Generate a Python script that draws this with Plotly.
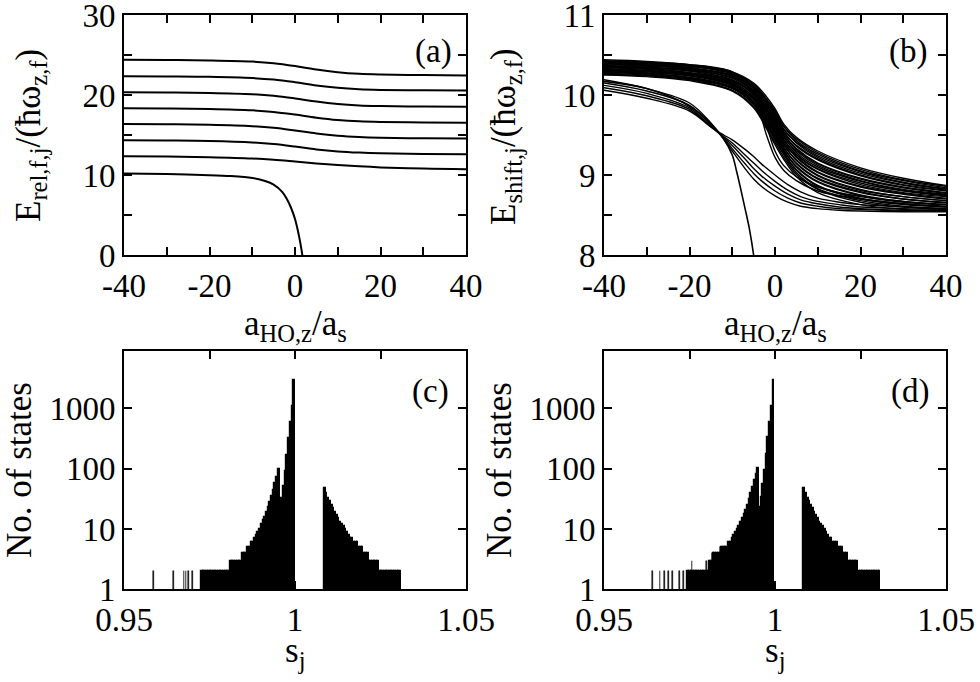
import plotly.graph_objects as go

# ---------------- data ----------------
# (a) relative energies vs a_HO,z/a_s
a_x = [-40, -30, -20, -10, -5, 0, 5, 10, 15, 20, 30, 40]
a_curves = [
    [24.40, 24.37, 24.32, 24.18, 23.98, 23.62, 23.18, 22.85, 22.65, 22.56, 22.49, 22.45],
    [22.35, 22.32, 22.27, 22.12, 21.93, 21.60, 21.20, 20.90, 20.72, 20.64, 20.58, 20.55],
    [20.35, 20.32, 20.26, 20.10, 19.90, 19.57, 19.18, 18.88, 18.70, 18.62, 18.55, 18.52],
    [18.35, 18.32, 18.25, 18.08, 17.88, 17.55, 17.17, 16.88, 16.71, 16.63, 16.56, 16.52],
    [16.38, 16.34, 16.27, 16.10, 15.90, 15.57, 15.20, 14.92, 14.75, 14.66, 14.59, 14.55],
    [14.35, 14.31, 14.24, 14.06, 13.86, 13.55, 13.20, 12.95, 12.80, 12.71, 12.64, 12.60],
    [12.35, 12.31, 12.22, 12.06, 11.90, 11.68, 11.45, 11.25, 11.08, 10.95, 10.80, 10.72],
]
a_low_x = [-40, -30, -20, -15, -10, -7, -5, -3, -2, -1, 0, 1, 2, 3]
a_low_y = [10.20, 10.12, 9.98, 9.86, 9.62, 9.25, 8.80, 7.90, 7.10, 6.00, 4.50, 2.20, -1.0, -5.0]

# (b) shifted energies
b_xa = [-40, -30, -20, -10, -5, -2, 0, 2, 5, 10, 20, 30, 40]
b_group_a = [
    [10.44, 10.42, 10.38, 10.29, 10.15, 9.98, 9.83, 9.64, 9.47, 9.30, 9.09, 8.96, 8.87],
    [10.43, 10.41, 10.37, 10.28, 10.13, 9.95, 9.80, 9.61, 9.43, 9.26, 9.05, 8.93, 8.84],
    [10.42, 10.40, 10.36, 10.27, 10.13, 9.95, 9.80, 9.61, 9.45, 9.28, 9.07, 8.94, 8.86],
    [10.42, 10.40, 10.36, 10.26, 10.11, 9.93, 9.77, 9.58, 9.40, 9.22, 9.02, 8.90, 8.82],
    [10.40, 10.38, 10.34, 10.24, 10.10, 9.92, 9.76, 9.57, 9.41, 9.24, 9.04, 8.91, 8.83],
    [10.41, 10.39, 10.34, 10.25, 10.09, 9.90, 9.74, 9.55, 9.36, 9.19, 8.99, 8.87, 8.80],
    [10.39, 10.37, 10.32, 10.22, 10.08, 9.88, 9.72, 9.53, 9.37, 9.20, 9.00, 8.88, 8.81],
    [10.39, 10.37, 10.33, 10.23, 10.06, 9.87, 9.71, 9.52, 9.32, 9.14, 8.95, 8.84, 8.77],
    [10.37, 10.35, 10.31, 10.21, 10.05, 9.85, 9.69, 9.50, 9.33, 9.15, 8.96, 8.85, 8.78],
    [10.38, 10.36, 10.32, 10.21, 10.04, 9.84, 9.67, 9.49, 9.28, 9.10, 8.92, 8.81, 8.75],
    [10.36, 10.34, 10.30, 10.19, 10.03, 9.83, 9.66, 9.47, 9.30, 9.12, 8.93, 8.82, 8.76],
    [10.36, 10.34, 10.30, 10.19, 10.02, 9.81, 9.64, 9.45, 9.25, 9.07, 8.88, 8.78, 8.73],
    [10.35, 10.33, 10.28, 10.17, 10.01, 9.80, 9.62, 9.44, 9.26, 9.08, 8.90, 8.80, 8.74],
    [10.35, 10.33, 10.28, 10.18, 10.00, 9.78, 9.61, 9.42, 9.22, 9.03, 8.85, 8.76, 8.70],
    [10.33, 10.31, 10.26, 10.15, 9.98, 9.76, 9.59, 9.40, 9.23, 9.04, 8.86, 8.77, 8.71],
    [10.34, 10.32, 10.27, 10.16, 9.97, 9.75, 9.57, 9.39, 9.18, 8.99, 8.81, 8.73, 8.68],
    [10.32, 10.30, 10.25, 10.13, 9.96, 9.73, 9.55, 9.37, 9.19, 9.00, 8.82, 8.73, 8.68],
    [10.32, 10.30, 10.26, 10.14, 9.95, 9.72, 9.54, 9.35, 9.14, 8.95, 8.78, 8.70, 8.65],
    [10.30, 10.28, 10.24, 10.12, 9.94, 9.70, 9.52, 9.34, 9.15, 8.96, 8.79, 8.70, 8.66],
    [10.31, 10.29, 10.24, 10.12, 9.92, 9.69, 9.50, 9.32, 9.10, 8.91, 8.74, 8.66, 8.63],
    [10.29, 10.27, 10.22, 10.10, 9.91, 9.67, 9.48, 9.30, 9.11, 8.92, 8.75, 8.67, 8.63],
    [10.29, 10.27, 10.22, 10.10, 9.90, 9.66, 9.47, 9.28, 9.06, 8.86, 8.70, 8.63, 8.60],
    [10.27, 10.25, 10.20, 10.08, 9.89, 9.64, 9.45, 9.27, 9.07, 8.87, 8.71, 8.64, 8.61],
    [10.28, 10.26, 10.21, 10.09, 9.88, 9.63, 9.44, 9.26, 9.03, 8.83, 8.68, 8.61, 8.58],
    [10.26, 10.24, 10.19, 10.06, 9.86, 9.60, 9.41, 9.23, 9.01, 8.82, 8.66, 8.60, 8.57],
    [10.25, 10.23, 10.18, 10.05, 9.84, 9.58, 9.38, 9.20, 8.98, 8.78, 8.63, 8.57, 8.55],
    [10.42, 10.41, 10.38, 10.29, 10.08, 9.62, 9.30, 9.12, 8.98, 8.85, 8.73, 8.67, 8.63],
    [10.40, 10.39, 10.36, 10.26, 10.00, 9.50, 9.22, 9.06, 8.93, 8.80, 8.70, 8.64, 8.60],
]
b_xb = [-40, -30, -20, -15, -12, -10, -7, -5, -3, 0, 3, 6, 10, 15, 20, 30, 40]
b_group_b = [
    [10.19, 10.08, 9.90, 9.65, 9.45, 9.30, 9.08, 8.95, 8.85, 8.74, 8.66, 8.61, 8.58, 8.56, 8.55, 8.54, 8.54],
    [10.15, 10.05, 9.87, 9.63, 9.46, 9.33, 9.14, 9.02, 8.92, 8.80, 8.71, 8.65, 8.61, 8.58, 8.57, 8.55, 8.55],
    [10.12, 10.02, 9.84, 9.61, 9.47, 9.37, 9.20, 9.08, 8.98, 8.86, 8.76, 8.69, 8.64, 8.60, 8.58, 8.56, 8.56],
    [10.09, 9.99, 9.82, 9.60, 9.48, 9.40, 9.25, 9.15, 9.05, 8.92, 8.81, 8.73, 8.67, 8.63, 8.60, 8.58, 8.57],
    [10.06, 9.96, 9.80, 9.60, 9.50, 9.44, 9.32, 9.23, 9.13, 9.00, 8.88, 8.79, 8.71, 8.66, 8.63, 8.60, 8.58],
]
b_steep_x = [-40, -30, -20, -15, -12, -10, -9, -8, -7, -6, -5, -4]
b_steep_y = [10.17, 10.08, 9.86, 9.64, 9.45, 9.25, 9.05, 8.82, 8.58, 8.33, 8.00, 7.55]

# (c), (d) histograms: bin width and counts per bin
bin_w = 0.0005
c_left_start = 0.9725
c_left_counts = [2] * 17 + [3] * 7 + [4, 4, 4, 5, 5, 6, 6, 7, 8, 9, 10, 12, 14, 16, 19, 23, 28,
                                      35, 45, 58, 74, 99, 24, 33, 52, 92, 170, 320, 590, 1100, 3000]
c_right_start = 1.0085
c_right_counts = [47, 39, 33, 29, 25, 22, 19, 17, 15, 13, 12, 11, 10, 9, 8, 7, 7, 6, 6, 6,
                  5, 5, 5, 4, 4, 4] + [3] * 6 + [2] * 13
c_sparse_s = [0.95858, 0.96442, 0.96754, 0.96813, 0.96880, 0.97008]
c_sparse_n = [2, 2, 2, 2, 2, 2]

d_left_start = 0.9743
d_left_counts = [2] * 13 + [3, 3] + [4] * 5 + [5] * 4 + [6, 6, 7, 8, 9, 10, 11, 13, 15, 18, 21, 25,
                                                      31, 39, 50, 64, 82, 104, 23, 34, 55, 95, 175,
                                                      330, 600, 1100, 3000]
d_right_start = 1.0083
d_right_counts = [47, 39, 33, 29, 25, 22, 19, 17, 15, 13, 12, 11, 10, 9, 8, 7, 7, 6, 6, 6,
                  5, 5, 5, 4, 4, 4] + [3] * 6 + [2] * 13
d_sparse_s = [0.96412, 0.96637, 0.96763, 0.96889, 0.97006, 0.97211, 0.97328,
              0.97573, 0.97991, 0.98158, 0.98401, 0.98499]
d_sparse_n = [2, 2, 2, 2, 2, 2, 2, 3, 3, 4, 5, 5]

# ---------------- figure ----------------
FONT = "Liberation Serif"
fig = go.Figure()

for yv in a_curves:
    fig.add_trace(go.Scatter(x=a_x, y=yv, mode="lines", line=dict(color="black", width=2, shape="spline"),
                             xaxis="x", yaxis="y", showlegend=False))
fig.add_trace(go.Scatter(x=a_low_x, y=a_low_y, mode="lines", line=dict(color="black", width=2, shape="spline", smoothing=0.8),
                         xaxis="x", yaxis="y", showlegend=False))

for yv in b_group_a:
    fig.add_trace(go.Scatter(x=b_xa, y=yv, mode="lines", line=dict(color="black", width=1.4, shape="spline"),
                             xaxis="x2", yaxis="y2", showlegend=False))
for yv in b_group_b:
    fig.add_trace(go.Scatter(x=b_xb, y=yv, mode="lines", line=dict(color="black", width=1.4, shape="spline"),
                             xaxis="x2", yaxis="y2", showlegend=False))
fig.add_trace(go.Scatter(x=b_steep_x, y=b_steep_y, mode="lines", line=dict(color="black", width=1.6, shape="spline"),
                         xaxis="x2", yaxis="y2", showlegend=False))


def add_hist(start, counts, xa, ya):
    xs = [start + (k + 0.5) * bin_w for k in range(len(counts))]
    fig.add_trace(go.Bar(x=xs, y=counts, width=bin_w, marker=dict(color="black", line=dict(color="black", width=1.2)),
                         xaxis=xa, yaxis=ya, showlegend=False))


add_hist(c_left_start, c_left_counts, "x3", "y3")
add_hist(c_right_start, c_right_counts, "x3", "y3")
fig.add_trace(go.Bar(x=c_sparse_s, y=c_sparse_n, width=0.0002, marker=dict(color="black", line=dict(color="black", width=0.5)),
                     xaxis="x3", yaxis="y3", showlegend=False))
add_hist(d_left_start, d_left_counts, "x4", "y4")
add_hist(d_right_start, d_right_counts, "x4", "y4")
fig.add_trace(go.Bar(x=d_sparse_s, y=d_sparse_n, width=0.0002, marker=dict(color="black", line=dict(color="black", width=0.5)),
                     xaxis="x4", yaxis="y4", showlegend=False))

W, H = 980, 682
L1, R1 = 124 / W, 466 / W
L2, R2 = 604 / W, 946 / W
T_top, B_top = 1 - 15 / H, 1 - 255 / H
T_bot, B_bot = 1 - 351 / H, 1 - 589.3 / H

tickfont = dict(family=FONT, size=33, color="black")
titlefont = dict(family=FONT, size=35, color="black")


def ax(**kw):
    d = dict(showline=True, linecolor="black", linewidth=2, mirror="allticks", ticks="inside",
             ticklen=8, tickwidth=1.5, tickcolor="black", showgrid=False, zeroline=False,
             tickfont=tickfont, automargin=False, ticklabeloverflow="allow")
    d.update(kw)
    return d


xt = [-40, -30, -20, -10, 0, 10, 20, 30, 40]
xtt = ["-40", "", "-20", "", "0", "", "20", "", "40"]
st = [0.95, 0.975, 1.0, 1.025, 1.05]
stt = ["0.95", "", "1", "", "1.05"]

fig.update_layout(
    width=W, height=H, margin=dict(l=0, r=0, t=0, b=0),
    paper_bgcolor="white", plot_bgcolor="white",
    barmode="overlay", bargap=0,
    font=dict(family=FONT, color="black"),
    xaxis=ax(domain=[L1, R1], anchor="y", range=[-40, 40], tickvals=xt, ticktext=xtt),
    yaxis=ax(domain=[B_top, T_top], anchor="x", range=[0, 30], tickvals=[0, 5, 10, 15, 20, 25, 30],
             ticktext=["0", "", "10", "", "20", "", "30"]),
    xaxis2=ax(domain=[L2, R2], anchor="y2", range=[-40, 40], tickvals=xt, ticktext=xtt),
    yaxis2=ax(domain=[B_top, T_top], anchor="x2", range=[8, 11], tickvals=[8, 8.5, 9, 9.5, 10, 10.5, 11],
              ticktext=["8", "", "9", "", "10", "", "11"]),
    xaxis3=ax(domain=[L1, R1], anchor="y3", range=[0.95, 1.05], tickvals=st, ticktext=stt),
    yaxis3=ax(domain=[B_bot, T_bot], anchor="x3", type="log", range=[0, 3.95], tickvals=[1, 10, 100, 1000],
              ticktext=["1", "10", "100", "1000"]),
    xaxis4=ax(domain=[L2, R2], anchor="y4", range=[0.95, 1.05], tickvals=st, ticktext=stt),
    yaxis4=ax(domain=[B_bot, T_bot], anchor="x4", type="log", range=[0, 3.95], tickvals=[1, 10, 100, 1000],
              ticktext=["1", "10", "100", "1000"]),
)

# panel labels
labels = [("(a)", "x", "y", 0.904, 0.847), ("(b)", "x2", "y2", 0.89, 0.847),
          ("(c)", "x3", "y3", 0.895, 0.829), ("(d)", "x4", "y4", 0.895, 0.829)]
for txt, xa, ya, px, py in labels:
    fig.add_annotation(text=txt, xref=xa + " domain", yref=ya + " domain", x=px, y=py,
                       xanchor="center", yanchor="middle", showarrow=False,
                       font=dict(family=FONT, size=33, color="black"))

# axis titles (placed as paper annotations, positions in pixels)
titles = [
    ("a<sub>HO,z</sub>/a<sub>s</sub>", 295, 325, 0),
    ("a<sub>HO,z</sub>/a<sub>s</sub>", 775, 325, 0),
    ("s<sub>j</sub>", 295, 652, 0),
    ("s<sub>j</sub>", 775, 652, 0),
    ("E<sub>rel,f,j</sub>/(ħω<sub>z,f</sub>)", 30, 136, -90),
    ("E<sub>shift,j</sub>/(ħω<sub>z,f</sub>)", 505, 136, -90),
    ("No. of states", 19, 470, -90),
    ("No. of states", 499, 470, -90),
]
for txt, px, py, ang in titles:
    fig.add_annotation(text=txt, xref="paper", yref="paper", x=px / W, y=1 - py / H,
                       xanchor="center", yanchor="middle", showarrow=False, textangle=ang,
                       font=titlefont)

fig.write_html("out.html")
